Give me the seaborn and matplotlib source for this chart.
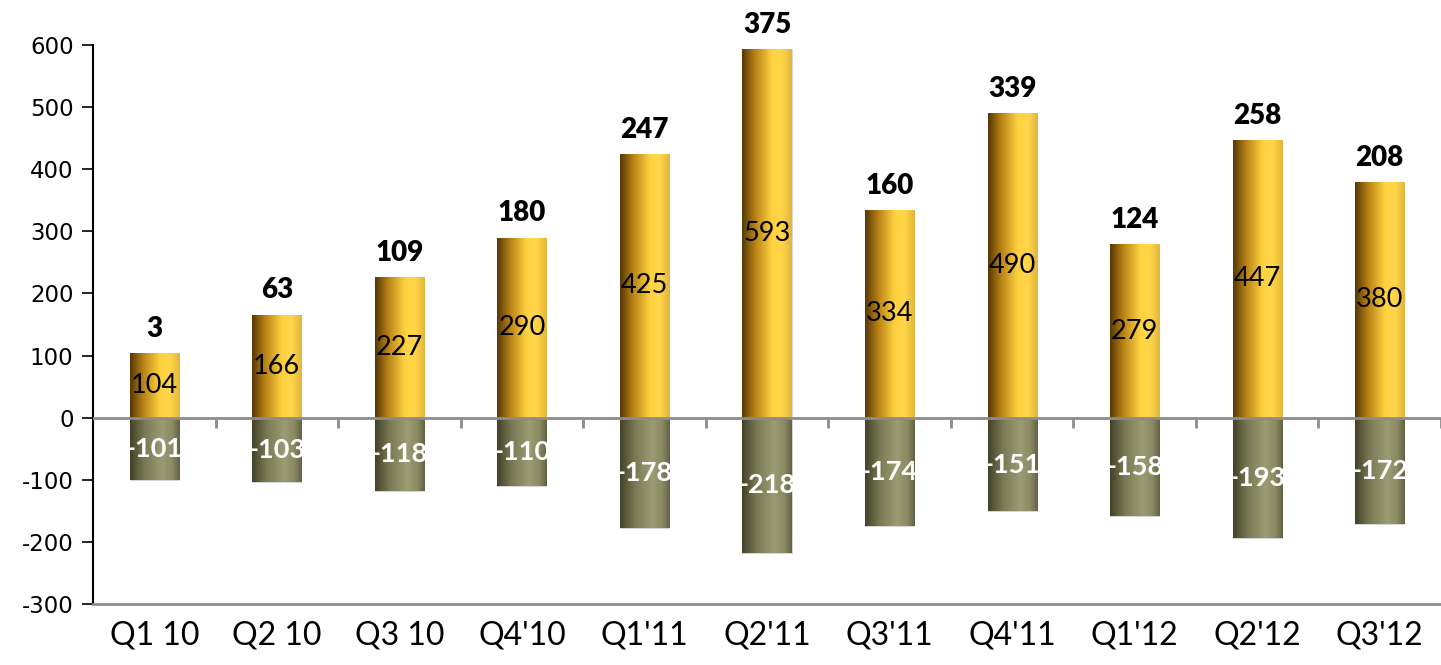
import numpy as np
import pandas as pd
import matplotlib
matplotlib.use('Agg')
import matplotlib.pyplot as plt
from matplotlib.colors import LinearSegmentedColormap
import seaborn as sns

QUARTERS = ["Q1 10", "Q2 10", "Q3 10", "Q4'10", "Q1'11", "Q2'11",
            "Q3'11", "Q4'11", "Q1'12", "Q2'12", "Q3'12"]
POSITIVE = [104, 166, 227, 290, 425, 593, 334, 490, 279, 447, 380]
NEGATIVE = [-101, -103, -118, -110, -178, -218, -174, -151, -158, -193, -172]
TOTAL = [3, 63, 109, 180, 247, 375, 160, 339, 124, 258, 208]

GOLD = LinearSegmentedColormap.from_list(
    'gold', [(0, '#553805'), (0.25, '#b57e15'), (0.6, '#ffd23f'),
             (0.8, '#ffd64a'), (1, '#e2b43c')])
OLIVE = LinearSegmentedColormap.from_list(
    'olive', [(0, '#434229'), (0.3, '#7a7a55'), (0.65, '#9b9c73'),
              (0.85, '#8a8a63'), (1, '#626146')])

sns.set_style('white')
plt.rcParams['font.family'] = ['Lato', 'DejaVu Sans']
plt.rcParams['axes.unicode_minus'] = False

df = pd.DataFrame({'quarter': QUARTERS, 'pos': POSITIVE, 'neg': NEGATIVE, 'total': TOTAL})

fig, ax = plt.subplots(figsize=(14.41, 6.65), dpi=100)
fig.subplots_adjust(left=93/1441, right=1.0, top=1-45/665, bottom=1-604/665)

sns.barplot(data=df, x='quarter', y='pos', color='#ffd23f', width=0.4, ax=ax, zorder=2)
sns.barplot(data=df, x='quarter', y='neg', color='#9b9c73', width=0.4, ax=ax, zorder=2)

grad = np.linspace(0, 1, 256).reshape(1, -1)
n = len(QUARTERS)
for i, patch in enumerate(ax.patches):
    x0, y0 = patch.get_x(), patch.get_y()
    w, h = patch.get_width(), patch.get_height()
    cmap = GOLD if i < n else OLIVE
    patch.set_edgecolor('#d8d8d8')
    patch.set_linewidth(0.6)
    im = ax.imshow(grad, cmap=cmap, aspect='auto', extent=[x0, x0 + w, y0, y0 + h],
                   zorder=2.5, interpolation='bicubic')
    im.set_clip_path(patch)

ax.set_xlim(-0.5, n - 0.5)
ax.set_ylim(-300, 600)
ax.set_yticks(range(-300, 601, 100))

# value labels
for i, p in enumerate(ax.patches[:n]):
    cx = p.get_x() + p.get_width() / 2
    ax.text(cx, POSITIVE[i] / 2, str(POSITIVE[i]), ha='center', va='center',
            fontsize=19.5, color='black', zorder=4)
    ax.annotate(str(TOTAL[i]), (cx, POSITIVE[i]), xytext=(0, 8), textcoords='offset points',
                ha='center', va='bottom', fontsize=20, fontweight='heavy', color='black',
                zorder=4, annotation_clip=False)
for i, p in enumerate(ax.patches[n:]):
    cx = p.get_x() + p.get_width() / 2
    ax.text(cx, NEGATIVE[i] / 2, str(NEGATIVE[i]), ha='center', va='center',
            fontsize=19.5, fontweight='bold', color='white', zorder=4)

# category axis on zero line
ax.axhline(0, color='#8c8c8c', lw=2, zorder=3)
ax.vlines([i + 0.5 for i in range(n)], -16, 0, color='#8c8c8c', lw=2, zorder=3)

ax.set_xlabel('')
ax.set_ylabel('')
for s in ['top', 'right']:
    ax.spines[s].set_visible(False)
ax.spines['left'].set_color('black')
ax.spines['left'].set_linewidth(1.5)
ax.spines['bottom'].set_color('#8c8c8c')
ax.spines['bottom'].set_linewidth(2)
ax.tick_params(axis='x', length=0, pad=12, labelsize=23, labelcolor='black')
ax.tick_params(axis='y', length=8, width=1.2, color='black', direction='out', left=True,
               pad=6, labelsize=16.5, labelfontfamily='DejaVu Sans', labelcolor='black')

fig.savefig('out.png', dpi=100)
